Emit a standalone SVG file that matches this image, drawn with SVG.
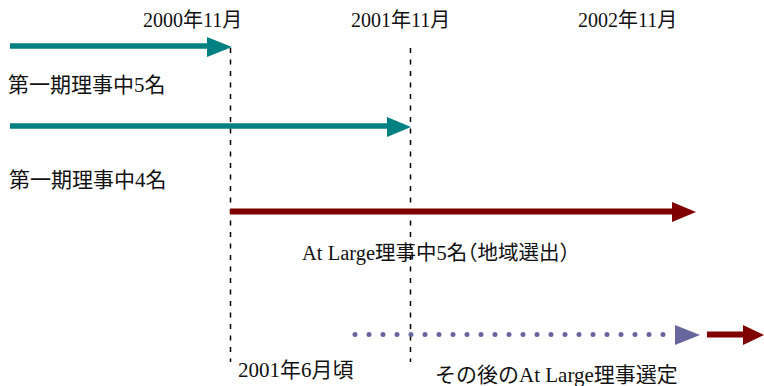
<svg xmlns="http://www.w3.org/2000/svg" width="764" height="386" viewBox="0 0 764 386">
<style>
text{font-family:"Liberation Serif","Noto Sans CJK JP",serif;font-size:20px;fill:#111}
.big{font-size:21px}
.dash{stroke:#000;stroke-width:1.5;stroke-dasharray:5 6.5;fill:none}
.teal{stroke:#008080;stroke-width:5.5}
.red{stroke:#800000;stroke-width:6}
</style>
<rect width="764" height="386" fill="#fff"/>
<g id="labels-top">
<text x="143" y="27">2000年11月</text>
<text x="351" y="27">2001年11月</text>
<text x="578" y="27">2002年11月</text>
</g>
<g id="connectors">
<line class="dash" x1="230.5" y1="48" x2="230.5" y2="362"/>
<line class="dash" x1="410.5" y1="48" x2="410.5" y2="362"/>
<line class="teal" x1="10" y1="46" x2="210" y2="46"/>
<polygon fill="#008080" points="207,37 232,47 207,57"/>
<line class="teal" x1="10" y1="126" x2="390" y2="126"/>
<polygon fill="#008080" points="387,117 411,127 387,137"/>
<line class="red" x1="230" y1="211.5" x2="674" y2="211.5"/>
<polygon fill="#800000" points="672,202 696,212 672,222"/>
<line x1="355" y1="334.5" x2="665" y2="334.5" stroke="#66669c" stroke-width="5" stroke-linecap="round" stroke-dasharray="0 14"/>
<polygon fill="#66669c" points="675,325 700,335 675,345"/>
<line class="red" x1="707" y1="334.5" x2="746" y2="334.5"/>
<polygon fill="#800000" points="743,325 764,335 743,345"/>
</g>
<g id="period1"><text class="big" x="8" y="92">第一期理事中5名</text></g>
<g id="period1b"><text class="big" x="9" y="187">第一期理事中4名</text></g>
<g id="atlarge"><text x="302" y="260" style="font-size:20.5px;font-feature-settings:'halt'">At Large理事中5名（地域選出）</text></g>
<g id="june"><text class="big" x="238" y="377">2001年6月頃</text></g>
<g id="later"><text class="big" x="435" y="382">その後のAt Large理事選定</text></g>
</svg>
